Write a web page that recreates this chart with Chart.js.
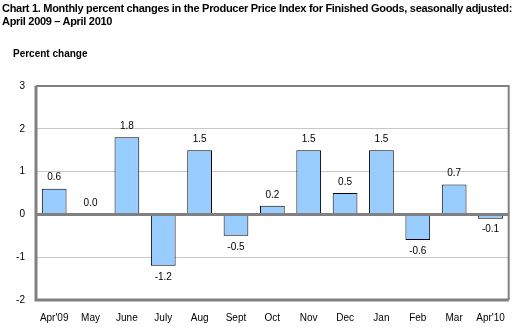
<!DOCTYPE html>
<html>
<head>
<meta charset="utf-8">
<script src="https://cdn.jsdelivr.net/npm/chart.js@4"></script>
<style>
  body { margin: 0; background: #fff; font-family: "Liberation Sans", Arial, sans-serif; }
  #wrap { position: relative; width: 517px; height: 327px; }
  #titulo { position: absolute; left: 2px; top: 2px; font-size: 11px; font-weight: bold; line-height: 13px; color: #000; white-space: nowrap; letter-spacing: -0.3px; }
  #etiqueta { position: absolute; left: 13px; top: 48px; font-size: 10px; font-weight: bold; color: #000; }
  canvas { position: absolute; left: 0; top: 0; }
</style>
</head>
<body>
<div id="wrap">
  <canvas id="myChart" width="517" height="327"></canvas>
  <div id="titulo">Chart 1. Monthly percent changes in the Producer Price Index for Finished Goods, seasonally adjusted:<br>April 2009 – April 2010</div>
  <div id="etiqueta">Percent change</div>
</div>
<script>
// Datos del gráfico
const meses = ["Apr'09", 'May', 'June', 'July', 'Aug', 'Sept', 'Oct', 'Nov', 'Dec', 'Jan', 'Feb', 'Mar', "Apr'10"];
const cambios = [0.6, 0.0, 1.8, -1.2, 1.5, -0.5, 0.2, 1.5, 0.5, 1.5, -0.6, 0.7, -0.1];
const yMin = -2;
const yMax = 3;

// Marco del área y línea del cero
const marcoPlugin = {
    id: 'marco',
    afterDraw(chart) {
        const { ctx, chartArea: a, scales } = chart;
        const y0 = scales.y.getPixelForValue(0);
        ctx.save();
        ctx.strokeStyle = '#808080';
        ctx.lineWidth = 2;
        ctx.beginPath();
        ctx.moveTo(a.left, a.top); ctx.lineTo(a.right, a.top); ctx.lineTo(a.right, a.bottom);
        ctx.stroke();
        ctx.lineWidth = 3;
        ctx.beginPath();
        ctx.moveTo(a.left, a.top); ctx.lineTo(a.left, a.bottom); ctx.lineTo(a.right, a.bottom);
        ctx.moveTo(a.left, y0); ctx.lineTo(a.right, y0);
        ctx.stroke();
        ctx.restore();
    }
};

// Etiquetas de valores encima/debajo de cada barra
const etiquetasPlugin = {
    id: 'etiquetas',
    afterDatasetsDraw(chart) {
        const { ctx } = chart;
        const meta = chart.getDatasetMeta(0);
        ctx.save();
        ctx.font = '10px "Liberation Sans", Arial, sans-serif';
        ctx.fillStyle = '#000';
        ctx.textAlign = 'center';
        meta.data.forEach((bar, i) => {
            const v = cambios[i];
            if (v < 0) {
                ctx.textBaseline = 'top';
                ctx.fillText(v.toFixed(1), bar.x, bar.y + 6);
            } else {
                ctx.textBaseline = 'bottom';
                ctx.fillText(v.toFixed(1), bar.x, bar.y - 6);
            }
        });
        ctx.restore();
    }
};

function crearGrafico() {
    const ctx = document.getElementById('myChart').getContext('2d');
    new Chart(ctx, {
        type: 'bar',
        data: {
            labels: meses,
            datasets: [{
                data: cambios,
                backgroundColor: '#99ccff',
                borderColor: '#000',
                borderWidth: 1,
                borderSkipped: false,
                categoryPercentage: 1,
                barPercentage: 0.68
            }]
        },
        options: {
            responsive: false,
            animation: false,
            layout: { padding: { top: 86, right: 5, left: 0, bottom: 0 } },
            plugins: { legend: { display: false }, tooltip: { enabled: false } },
            scales: {
                x: {
                    grid: { display: false, drawTicks: false },
                    border: { display: false },
                    ticks: { color: '#000', font: { size: 10, family: '"Liberation Sans", Arial' }, padding: 12, maxRotation: 0, autoSkip: false },
                    afterFit: s => { s.height = 27; }
                },
                y: {
                    min: yMin,
                    max: yMax,
                    grid: { color: '#c8c8c8', lineWidth: 1, drawTicks: false },
                    border: { display: false },
                    ticks: { stepSize: 1, color: '#000', font: { size: 10, family: '"Liberation Sans", Arial' }, padding: 11 },
                    afterFit: s => { s.width = 36; }
                }
            }
        },
        plugins: [marcoPlugin, etiquetasPlugin]
    });
}

crearGrafico();
</script>
</body>
</html>
